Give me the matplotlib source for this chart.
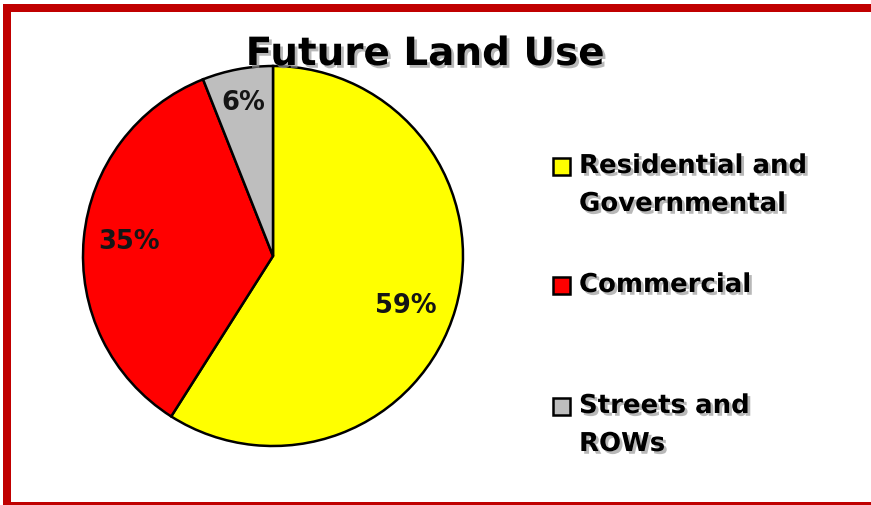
import matplotlib
matplotlib.use("Agg")
import matplotlib.pyplot as plt
from matplotlib.patches import Rectangle
import matplotlib.patheffects as pe
import numpy as np

# ---- data ----
title = "Future Land Use"
categories = ["Residential and\nGovernmental", "Commercial", "Streets and\nROWs"]
values = [59, 35, 6]
colors = ["#FFFF00", "#FF0000", "#BEBEBE"]

# ---- layout ----
W, H = 871, 505
fig = plt.figure(figsize=(W / 100, H / 100), dpi=100)
fig.patch.set_facecolor("white")


def fx(x):
    return x / W


def fy(y):
    return 1 - y / H


FONT = "DejaVu Sans"
border_red = "#C00000"

# red frame (top, left, bottom; open on right)
fig.patches.append(Rectangle((fx(3), fy(12)), 1 - fx(3), 8 / H, transform=fig.transFigure,
                             facecolor=border_red, edgecolor="none", zorder=10))
fig.patches.append(Rectangle((fx(3), fy(505)), 8 / W, (505 - 4) / H, transform=fig.transFigure,
                             facecolor=border_red, edgecolor="none", zorder=10))
fig.patches.append(Rectangle((fx(3), fy(505)), 1 - fx(3), 3 / H, transform=fig.transFigure,
                             facecolor=border_red, edgecolor="none", zorder=10))

# pie
cx, cy, r = 273, 256, 190
ax = fig.add_axes([fx(cx - r), fy(cy + r), 2 * r / W, 2 * r / H])
wedges, _ = ax.pie(values, colors=colors, startangle=90, counterclock=False, radius=1,
                   wedgeprops=dict(edgecolor="black", linewidth=1.8))
ax.set_xlim(-1, 1)
ax.set_ylim(-1, 1)
ax.set_aspect("equal")
ax.axis("off")

label_radius = [0.75, 0.76, 0.82]
label_dtheta = [-4.5, 0.0, 0.0]
for w, v, rr, dt in zip(wedges, values, label_radius, label_dtheta):
    th = np.deg2rad((w.theta1 + w.theta2) / 2 + dt)
    ax.text(rr * np.cos(th), rr * np.sin(th), f"{v}%", ha="center", va="center",
            fontsize=18.5, fontweight="bold", family=FONT, color="#151515")

shadow = [pe.withSimplePatchShadow(offset=(2, -2), shadow_rgbFace="#9a9a9a", alpha=0.7)]

# title
fig.text(fx(425), fy(54), title, ha="center", va="center", fontsize=28,
         fontweight="bold", family=FONT, color="black", path_effects=shadow)

# legend
first_line_y = [166, 285, 406]
line_gap = 38
sq = 17
for cat, col, y0 in zip(categories, colors, first_line_y):
    fig.patches.append(Rectangle((fx(553), fy(y0 + sq / 2)), sq / W, sq / H,
                                 transform=fig.transFigure, facecolor=col,
                                 edgecolor="black", linewidth=1.8, zorder=5))
    for i, line in enumerate(cat.split("\n")):
        fig.text(fx(579), fy(y0 + i * line_gap), line, ha="left", va="center",
                 fontsize=18.7, fontweight="bold", family=FONT, color="black",
                 path_effects=shadow)

fig.savefig("out.png", dpi=100, facecolor="white")
